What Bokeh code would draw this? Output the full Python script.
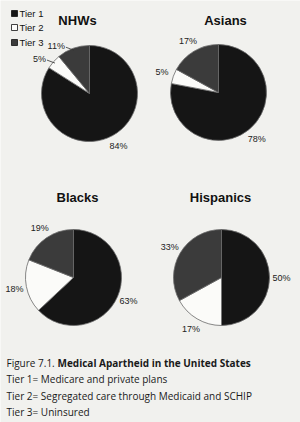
import numpy as np
from bokeh.plotting import figure
from bokeh.models import Range1d
from bokeh.core.properties import value
from bokeh.embed import file_html
from bokeh.resources import INLINE

# ---------------- data ----------------
groups = ["NHWs", "Asians", "Blacks", "Hispanics"]
tiers = ["Tier 1", "Tier 2", "Tier 3"]
tier1 = [84, 78, 63, 50]
tier2 = [5, 5, 18, 17]
tier3 = [11, 17, 19, 33]
caption_lead = "Figure 7.1."
caption_title = "Medical Apartheid in the United States"
notes = ["Tier 1= Medicare and private plans",
         "Tier 2= Segregated care through Medicaid and SCHIP",
         "Tier 3= Uninsured"]

# ---------------- layout / style ----------------
W, H = 300, 422
centers_px = [(89, 93), (218, 92), (73, 277), (221, 277)]
radius = 48
title_px = [(77, 20), (225, 20), (77, 197), (220, 197)]
use_leader = [True, False, False, False]
colors = ["#151515", "#fbfbf9", "#3b3b3b"]
bg = "#f1f1ee"
sans = "Liberation Sans"
cap_font = "Open Sans"

def Y(ypx):
    return H - ypx

p = figure(width=W, height=H, x_range=Range1d(0, W), y_range=Range1d(0, H),
           x_axis_type=None, y_axis_type=None, toolbar_location=None,
           output_backend="svg", min_border=0, outline_line_color=None,
           background_fill_color=bg, border_fill_color=bg)
p.grid.visible = False

lab_x, lab_y, lab_t, lab_align = [], [], [], []
lead_x0, lead_y0, lead_x1, lead_y1 = [], [], [], []

for gi, g in enumerate(groups):
    vals = np.array([tier1[gi], tier2[gi], tier3[gi]], dtype=float)
    frac = vals / vals.sum()
    cum = np.concatenate([[0], np.cumsum(frac)])
    cx, cy = centers_px[gi]
    starts = np.pi / 2 - 2 * np.pi * cum[:-1]
    ends = np.pi / 2 - 2 * np.pi * cum[1:]
    p.wedge(x=[cx] * 3, y=[Y(cy)] * 3, radius=radius,
            start_angle=list(starts), end_angle=list(ends), direction="clock",
            fill_color=colors, line_color="#6a6a6a", line_width=0.8)
    for k in range(3):
        mid = 2 * np.pi * (cum[k] + cum[k + 1]) / 2
        txt = f"{int(vals[k])}%"
        if use_leader[gi] and frac[k] < 0.15:
            ex = cx + (radius - 2) * np.sin(mid)
            ey = cy - (radius - 2) * np.cos(mid)
            lead_x0.append(ex); lead_y0.append(Y(ey))
            lead_x1.append(ex - 8); lead_y1.append(Y(ey - 3))
            lab_x.append(ex - 9); lab_y.append(Y(ey - 4)); lab_t.append(txt)
            lab_align.append("right")
        else:
            lx = cx + (radius + 12) * np.sin(mid)
            ly = cy - (radius + 12) * np.cos(mid)
            lab_x.append(lx); lab_y.append(Y(ly)); lab_t.append(txt)
            lab_align.append("center")
    tx, ty = title_px[gi]
    p.text(x=[tx], y=[Y(ty)], text=[g], text_font=value(sans),
           text_font_style="bold", text_font_size="13px", text_color="#111111",
           text_align="center", text_baseline="middle")

p.segment(x0=lead_x0, y0=lead_y0, x1=lead_x1, y1=lead_y1,
          line_color="#333333", line_width=0.8)
p.text(x=lab_x, y=lab_y, text=lab_t, text_align=lab_align,
       text_font=value(sans), text_font_size="9px", text_color="#222222",
       text_baseline="middle")

# legend
leg_y = [13, 27, 42]
p.scatter(x=[14] * 3, y=[Y(v) for v in leg_y], marker="square", size=6,
          fill_color=colors, line_color="#111111", line_width=0.8)
p.text(x=[19] * 3, y=[Y(v) for v in leg_y], text=tiers, text_font=value(sans),
       text_font_size="9.5px", text_color="#111111", text_baseline="middle")

# caption
p.text(x=[6], y=[Y(362)], text=[caption_lead], text_font=value(cap_font),
       text_font_size="10px", text_color="#1a1a1a", text_baseline="middle")
p.text(x=[57], y=[Y(362)], text=[caption_title], text_font=value(cap_font),
       text_font_style="bold", text_font_size="10px", text_color="#1a1a1a",
       text_baseline="middle")
p.text(x=[6] * 3, y=[Y(v) for v in [378, 395, 411]], text=notes,
       text_font=value(cap_font), text_font_size="10px", text_color="#1a1a1a",
       text_baseline="middle")

open("out.html", "w").write(file_html(p, INLINE))
